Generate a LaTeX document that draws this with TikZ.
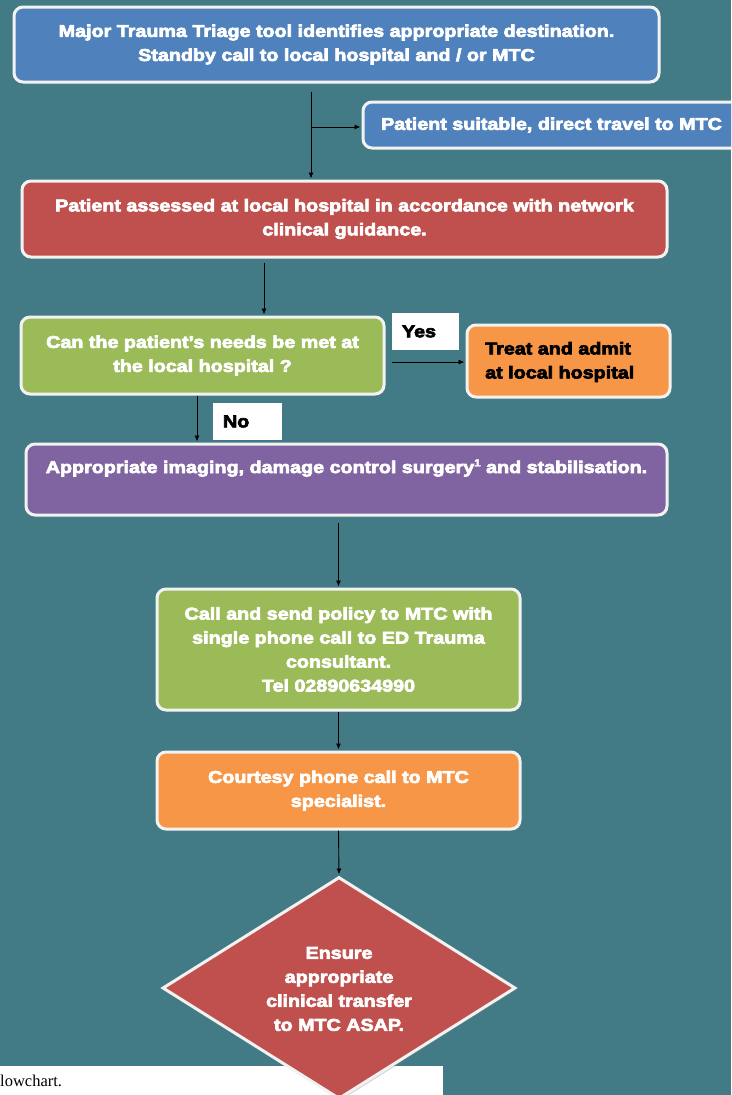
\documentclass[tikz,border=0pt]{standalone}
\usepackage{fontspec}
\setmainfont{Liberation Sans}
\newfontfamily\heavy{Liberation Sans}[UprightFont={* Bold}, FakeStretch=1.16, FakeBold=4]
\newfontfamily\capfont{Liberation Serif}
\usetikzlibrary{shapes.geometric,shadows,arrows.meta}
\definecolor{bg}{HTML}{427B85}
\definecolor{cblue}{HTML}{4F81BD}
\definecolor{cred}{HTML}{C0504D}
\definecolor{cgreen}{HTML}{9BBB59}
\definecolor{corange}{HTML}{F79646}
\definecolor{cpurple}{HTML}{8064A2}
\definecolor{boxedge}{HTML}{F2F2F2}
\begin{document}
\begin{tikzpicture}[x=1pt,y=-1pt,
  txt/.style={text=white, font=\heavy\fontsize{17}{24}\selectfont, align=center, inner sep=0pt},
  box/.style={txt, draw=boxedge, line width=3pt, rounded corners=9pt,
    drop shadow={shadow xshift=1.5pt,shadow yshift=-2pt,opacity=0.35}},
  tag/.style={fill=white, text=black, font=\heavy\fontsize{17}{24}\selectfont, align=left, inner xsep=10pt, inner ysep=0pt, minimum height=37pt},
  arr/.style={-{Latex[length=6pt,width=5pt]}, line width=0.9pt, black, shorten >=1pt}
]
\useasboundingbox (0,0) rectangle (731,1095);
\fill[bg] (0,0) rectangle (731,1095);
\begin{scope}
\clip (0,0) rectangle (731,1095);

% boxes
\node[box, fill=cblue, minimum width=645pt, minimum height=75pt] (n1) at (336.5,44.5)
  {Major Trauma Triage tool identifies appropriate destination.\\Standby call to local hospital and / or MTC};
\node[box, fill=cblue, minimum width=377pt, minimum height=46pt] (n2) at (551.5,125)
  {Patient suitable, direct travel to MTC};
\node[box, fill=cred, minimum width=645pt, minimum height=76pt] (n3) at (344.5,219)
  {Patient assessed at local hospital in accordance with network\\clinical guidance.};
\node[box, fill=cgreen, minimum width=363pt, minimum height=77pt] (n4) at (202.5,355.5)
  {Can the patient’s needs be met at\\the local hospital ?};
\node[box, fill=corange, minimum width=203pt, minimum height=72pt] (n5) at (568.5,361) {};
\node[txt, text=black, align=left, anchor=west] (n5t) at (485,362) {Treat and admit\\at local hospital};
\node[tag, text width=47pt] (yes) at (425.5,331.5) {Yes};
\node[tag, text width=49pt] (no) at (247.5,421.5) {No};
\node[box, fill=cpurple, minimum width=641pt, minimum height=71pt] (n6) at (346.5,479.5) {};
\node[txt] (n6t) at (346.5,468) {Appropriate imaging, damage control surgery\raisebox{0.75ex}{\fontsize{10}{10}\selectfont 1} and stabilisation.};
\node[box, fill=cgreen, minimum width=363pt, minimum height=121pt] (n7) at (338.5,649.5)
  {Call and send policy to MTC with\\single phone call to ED Trauma\\consultant.\\Tel 02890634990};
\node[box, fill=corange, minimum width=363pt, minimum height=77pt] (n8) at (338.5,790.5)
  {Courtesy phone call to MTC\\specialist.};

% caption strip
\fill[white] (0,1066) rectangle (443,1095);
\node[anchor=base west, inner sep=0pt, font=\capfont\fontsize{16.5}{19}\selectfont] (cap) at (0,1086) {lowchart.};

% diamond
\node[diamond, draw=boxedge, line width=3pt, fill=cred, minimum width=353pt, minimum height=222pt, inner sep=0pt,
  drop shadow={shadow xshift=1.5pt,shadow yshift=-2pt,opacity=0.35}] (n9) at (339,988) {};
\node[txt] (n9t) at (339,989) {Ensure\\appropriate\\clinical transfer\\to MTC ASAP.};

% connectors
\coordinate (j1) at (311,127);
\draw[arr] (j1 |- n1.south) ++(0,8) -- (j1 |- n3.north);
\draw[arr] (j1) -- (j1 -| n2.west);
\coordinate (j2) at (264,0);
\draw[arr] (j2 |- n3.south) ++(0,4) -- (j2 |- n4.north);
\coordinate (j3) at (392,362);
\draw[arr] (j3) -- (j3 -| n5.west);
\coordinate (j4) at (197,0);
\draw[arr] (j4 |- n4.south) -- (j4 |- n6.north);
\draw[arr] (n6.south) ++(-8,6) -- (n7.north);
\draw[arr] (n7.south) -- (n8.north);
\draw[arr] (n8.south) -- (n9.north);
\end{scope}
\end{tikzpicture}
\end{document}
